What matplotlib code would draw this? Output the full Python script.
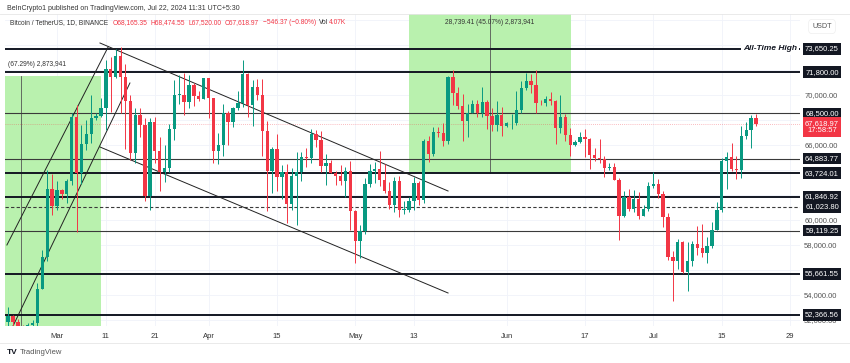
import numpy as np
import pandas as pd
import matplotlib
matplotlib.use('Agg')
import matplotlib.pyplot as plt
from matplotlib.patches import Rectangle
import matplotlib.transforms as mtransforms

plt.rcParams['font.family'] = ['Liberation Sans', 'DejaVu Sans']

# daily BTC/USDT candles, 20 Feb - 22 Jul 2024
dates = pd.date_range('2024-02-20', '2024-07-22', freq='D')
opens = [51780, 52260, 51840, 51300, 50730, 51570, 51730, 54480, 57040, 62430,
         61130, 62390, 62030, 63130, 68250, 63720, 66070, 66820, 68120, 68310, 68950, 72090, 71450, 73070, 71390, 69470,
         65300, 68390, 67610, 61930, 67840, 65500, 63800, 64100, 67230, 69960, 69990, 69450, 70780, 69890, 69640,
         71330, 69700, 65460, 65960, 68510, 67840, 68900, 69360, 71620, 69150, 70640, 70010, 67120, 63920, 65660,
         63420, 63810, 61280, 63510, 63840, 64990, 64940, 66840, 66410, 64280, 64500, 63770, 63460, 63120, 63870,
         60670, 58320, 59120, 62890, 63890, 64030, 63160, 62330, 61190, 63070, 60790, 60800, 61460, 62940, 61580,
         66270, 65230, 67050, 66940, 66280, 71450, 70140, 69120, 67930, 68530, 69290, 68500, 69390, 68300, 67590, 68350,
         67490, 67700, 67750, 68800, 70560, 71080, 70760, 69340, 69300, 69650, 69510, 67320, 68240, 66760, 66010,
         66190, 66640, 66490, 65150, 64960, 64830, 64100, 64250, 63180, 60280, 61800, 60860, 61670, 60320, 60890,
         62680, 62850, 62030, 60200, 57030, 56660, 58230, 55850, 56700, 58050, 57720, 57340, 57900, 59210, 60790,
         64720, 65040, 64090, 63970, 66680, 67150, 68165]
highs = [52990, 52370, 52020, 51550, 51700, 51950, 54910, 57580, 64000, 63680,
         63110, 62480, 63230, 68500, 69170, 67600, 67980, 69990, 68500, 69700, 72800, 73000, 73650, 73780, 72420, 70000,
         68900, 68950, 68120, 68100, 68240, 66650, 65980, 67620, 71150, 71560, 71730, 71540, 70900, 70330, 71370,
         71340, 69710, 66910, 69290, 68720, 69000, 70330, 72800, 71760, 71170, 71250, 71230, 67930, 65840, 66870,
         64360, 64470, 64120, 65450, 65390, 65700, 67230, 67200, 67070, 65290, 64800, 63900, 64350, 64230, 64700,
         60780, 59600, 63320, 64490, 64640, 65500, 64420, 62990, 63440, 63470, 61490, 61820, 63450, 63100, 66440,
         66700, 67450, 67400, 67700, 71500, 71980, 70650, 70090, 69220, 69570, 69560, 70610, 69560, 68900, 69500, 69000,
         67850, 68440, 70290, 71060, 71750, 71630, 71980, 69560, 69870, 70180, 69560, 69990, 68450, 67300, 66400,
         66980, 67280, 66570, 65740, 66480, 65060, 64520, 64520, 63370, 62300, 62480, 62390, 62200, 61200, 63000,
         63850, 63290, 62280, 60500, 57500, 58480, 58260, 58250, 58290, 59470, 59650, 58580, 59850, 61420, 64900,
         65390, 66130, 65130, 67470, 67790, 68380, 68475]
lows = [50520, 50630, 50880, 50520, 50600, 51280, 50900, 54450, 56690, 60360,
        60780, 61650, 61320, 62770, 59000, 62850, 65600, 66100, 67960, 68200, 67190, 68600, 71330, 68560, 65630, 64780,
        64550, 66600, 61500, 60770, 64530, 62260, 63000, 63790, 66400, 69280, 68380, 68920, 69090, 69510, 69620,
        68110, 64510, 64490, 65060, 66010, 67450, 68790, 69040, 68210, 67520, 69570, 65090, 60660, 62130, 62300,
        61630, 59750, 60800, 59600, 63100, 64250, 64520, 65780, 63800, 62790, 63760, 62810, 62800, 61800, 59190,
        56550, 56940, 58850, 62600, 62900, 62700, 62160, 60880, 60650, 60190, 60490, 60630, 60750, 61150, 61360,
        64600, 65110, 66600, 65860, 66060, 69160, 68850, 66300, 66620, 68530, 68230, 68230, 67280, 67120, 67120, 66670,
        67390, 67290, 67610, 68520, 70380, 70120, 68500, 69200, 69130, 69180, 66050, 66900, 66300, 65080, 65880,
        66110, 65000, 64060, 64700, 64550, 63380, 63940, 63180, 58400, 60250, 60710, 60630, 60070, 60270, 60680,
        62500, 61760, 59420, 56770, 53500, 56020, 55760, 54260, 56280, 57160, 57050, 56540, 57740, 59180, 60630,
        62420, 63900, 63230, 63300, 66430, 65750, 67520]
closes = [52260, 51840, 51300, 50730, 51570, 51730, 54480, 57040, 62430, 61130,
          62390, 62030, 63130, 68250, 63720, 66070, 66820, 68120, 68310, 68950, 72090, 71450, 73070, 71390, 69470, 65300,
          68390, 67610, 61930, 67840, 65500, 63800, 64100, 67230, 69960, 69990, 69450, 70780, 69890, 69640, 71330,
          69700, 65460, 65960, 68510, 67840, 68900, 69360, 71620, 69150, 70640, 70010, 67120, 63920, 65660, 63420,
          63810, 61280, 63510, 63840, 64990, 64940, 66840, 66410, 64280, 64500, 63770, 63460, 63120, 63870, 60670,
          58320, 59120, 62890, 63890, 64030, 63160, 62330, 61190, 63070, 60790, 60800, 61460, 62940, 61580, 66270,
          65230, 67050, 66940, 66280, 71450, 70140, 69120, 67930, 68530, 69290, 68500, 69390, 68300, 67590, 68350, 67490,
          67700, 67750, 68800, 70560, 71080, 70760, 69340, 69300, 69650, 69510, 67320, 68240, 66760, 66010, 66190,
          66640, 66490, 65150, 64960, 64830, 64100, 64250, 63180, 60280, 61800, 60860, 61670, 60320, 60890, 62680,
          62850, 62030, 60200, 57030, 56660, 58230, 55850, 56700, 58050, 57720, 57340, 57900, 59210, 60790, 64720,
          65040, 64090, 63970, 66680, 67150, 68165, 67618.97]

# horizontal levels drawn on the chart
levels = [73650.25, 71800.00, 68500.00, 64883.77, 63724.01, 61846.92, 61023.80, 59119.25, 55661.55, 52366.56]
level_thick = [True, True, False, False, True, True, False, False, True, True]
level_dashed = [False, False, False, False, False, False, True, False, False, False]
last_price = 67618.97

# price scale labels that are not hidden behind level boxes
ytick_vals = [52000, 54000, 56000, 58000, 60000, 66000, 70000, 74000]

# trend lines (start date, start price, end date, end price)
trend_lines = [
    ('2024-02-19 18:00', 57970, '2024-03-11 11:00', 73810),
    ('2024-02-21 00:00', 51490, '2024-03-15 22:00', 70930),
    ('2024-03-09 19:00', 74130, '2024-05-20 00:00', 62290),
    ('2024-03-09 19:00', 65810, '2024-05-20 00:00', 54130),
]

xtick_dates = ['2024-03-01', '2024-03-11', '2024-03-21', '2024-04-01', '2024-04-15', '2024-05-01',
               '2024-05-13', '2024-06-01', '2024-06-17', '2024-07-01', '2024-07-15', '2024-07-29']
xtick_labels = ['Mar', '11', '21', 'Apr', '15', 'May', '13', 'Jun', '17', 'Jul', '15', '29']

base = pd.Timestamp('2024-03-01')
def dnum(s):
    return (pd.Timestamp(s) - base) / pd.Timedelta(days=1)

x = np.array([dnum(d) for d in dates])
o = np.array(opens, float); h = np.array(highs, float)
l = np.array(lows, float); c = np.array(closes, float)

GREEN = '#089981'
RED = '#f23645'
BOX = '#b9f1ae'

fig = plt.figure(figsize=(8.5, 3.63), dpi=100)
ax = fig.add_axes([5 / 850, (363 - 326) / 363, 795 / 850, 312 / 363])
ax.set_xlim(-10.64, 152.0)
ax.set_ylim(51490, 76450)
for s in ax.spines.values():
    s.set_visible(False)

# grid every 2000 like the price scale
grid_vals = np.arange(52000, 76001, 2000)
ax.set_yticks(grid_vals)
ax.set_yticklabels([f'{v:,.2f}' if v in ytick_vals else '' for v in grid_vals])
ax.set_xticks([dnum(d) for d in xtick_dates])
ax.set_xticklabels(xtick_labels)
ax.yaxis.tick_right()
ax.tick_params(axis='y', length=0, pad=3, labelsize=5.5, labelcolor='#555')
ax.tick_params(axis='x', length=0, pad=5, labelsize=5.5, labelcolor='#333')
ax.grid(True, color='#f0f3fa', lw=0.6, zorder=0)
ax.set_axisbelow(True)

# measure boxes
ax.add_patch(Rectangle((-14, 50000), 9.0 + 14, 71490 - 50000, color=BOX, lw=0, zorder=1))
ax.plot([-7.37, -7.37], [50000, 71490], color='#555', lw=0.6, zorder=1.5)
ax.add_patch(Rectangle((72.03, 63724.01), 105.18 - 72.03, 80000 - 63724.01, color=BOX, lw=0, zorder=1))
ax.plot([88.6, 88.6], [63724.01, 80000], color='#555', lw=0.6, zorder=1.5)
ax.text(-10.0, 72450, '(67.29%) 2,873,941', fontsize=4.8, color='#333', va='center', ha='left', zorder=6)
ax.text(88.6, 75810, '28,739.41 (45.07%) 2,873,941', fontsize=4.8, color='#333', va='center', ha='center', zorder=6)

# levels
for p, thick, dashed in zip(levels, level_thick, level_dashed):
    ax.axhline(p, color='#131722' if thick else '#3a3a3a', lw=1.4 if thick else 0.8,
               ls=(0, (3, 2)) if dashed else '-', zorder=2)
ax.axhline(last_price, color=RED, lw=0.6, ls=(0, (1, 1.5)), alpha=0.45, zorder=2)

# trend lines
for d0, p0, d1, p1 in trend_lines:
    ax.plot([dnum(d0), dnum(d1)], [p0, p1], color='#222', lw=0.7, zorder=2.2)

# candles
up = c >= o
cols = np.where(up, GREEN, RED)
ax.vlines(x, l, h, colors=cols, lw=0.7, zorder=3)
body = np.abs(c - o)
body = np.where(body < 60, 60, body)
ax.bar(x, body, bottom=np.minimum(o, c), width=0.68, color=cols, lw=0, zorder=3.5)

tr = mtransforms.blended_transform_factory(ax.transAxes, ax.transData)

# All-Time High label
ax.text((797 - 5) / 795, 73650.25, 'All-Time High', transform=tr,
        fontsize=6, fontweight='bold', fontstyle='italic', color='#131722', ha='right', va='center',
        bbox=dict(boxstyle='square,pad=0.25', fc='white', ec='none'), zorder=7)

# price axis labels
xl = 1 + 22 / 795
for p in levels:
    ax.text(xl, p, f'{p:,.2f}', transform=tr, fontsize=5.5, color='white', ha='center', va='center',
            bbox=dict(boxstyle='square,pad=0.3', fc='#131722', ec='none'), zorder=10, clip_on=False)
ax.text(xl, 67410, f'{last_price:,.2f}\n17:58:57', transform=tr, fontsize=5.5, color='white', ha='center',
        va='center', linespacing=1.1, bbox=dict(boxstyle='square,pad=0.3', fc=RED, ec='none'), zorder=10, clip_on=False)
ax.text(xl, 75450, 'USDT', transform=tr, fontsize=5.2, color='#555', ha='center', va='center',
        bbox=dict(boxstyle='round,pad=0.5', fc='white', ec='#eeeeee', lw=0.5), zorder=10, clip_on=False)

# header
def px(xp, yp):
    return xp / 850, 1 - yp / 363

fig.text(*px(7, 8), 'BeInCrypto1 published on TradingView.com, Jul 22, 2024 11:31 UTC+5:30',
         fontsize=5, color='#333', va='center')

parts = [('Bitcoin / TetherUS, 1D, BINANCE', '#333', 0), ('O68,165.35', RED, 3), ('H68,474.55', RED, 2.5),
         ('L67,520.00', RED, 2.5), ('C67,618.97', RED, 2.5), ('\u2212546.37 (\u22120.80%)', RED, 2.5),
         ('Vol', '#333', 2.5), ('4.07K', RED, 0.3)]
fig.canvas.draw()
r = fig.canvas.get_renderer()
xcur = 10
for txt, col, gap in parts:
    xcur += gap * 100 / 72
    t = fig.text(*px(xcur, 23), txt, fontsize=4.8, color=col, va='center')
    xcur += t.get_window_extent(r).width

# frame lines
fig.add_artist(plt.Line2D([0, 1], [1 - 13.5 / 363] * 2, color='#e6e6e6', lw=0.6))
fig.add_artist(plt.Line2D([0, 1], [1 - 343 / 363] * 2, color='#e6e6e6', lw=0.6))

# footer logo
fig.text(*px(7, 352), 'TV', fontsize=6, fontweight='bold', color='#131722', va='center')
fig.text(*px(20, 352), 'TradingView', fontsize=5.5, color='#555', va='center')

fig.savefig('out.png', dpi=100)
